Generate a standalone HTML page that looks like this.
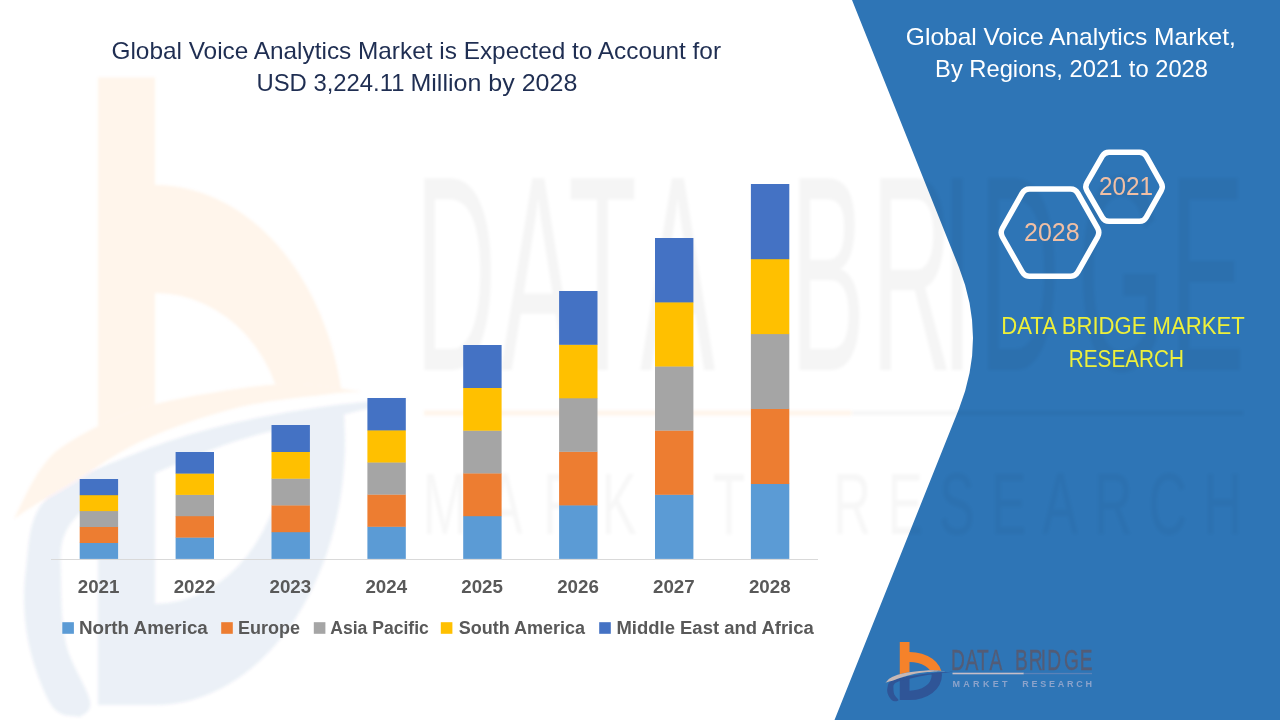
<!DOCTYPE html>
<html lang="en">
<head>
<meta charset="utf-8">
<title>Global Voice Analytics Market</title>
<style>
html,body{margin:0;padding:0;background:#fff;}
body{width:1280px;height:720px;overflow:hidden;position:relative;font-family:"Liberation Sans",sans-serif;}
svg{position:absolute;left:0;top:0;display:block}
text{font-family:"Liberation Sans",sans-serif;}
.ttl{font-size:24px;fill:#1F2E52;}
.rt{font-size:24px;fill:#ffffff;}
.yl{font-size:23px;fill:#EEF03A;}
.ax{font-size:18.5px;font-weight:bold;fill:#595959;}
.lg{font-size:18px;font-weight:bold;fill:#595959;}
.lt1{font-size:29px;}
.lt2{font-size:9px;font-weight:bold;}
.hx{font-size:25px;fill:#F0BFA4;}
</style>
</head>
<body>
<svg width="1280" height="720" viewBox="0 0 1280 720">
<defs>
<clipPath id="cTop"><path d="M-50 -50 H500 V392 L363.0 392.0 C352.5 390.7 321.2 384.5 300.0 384.0 C278.8 383.5 262.3 385.0 236.0 389.0 C209.7 393.0 169.5 399.3 142.0 408.0 C114.5 416.7 88.0 430.7 71.0 441.0 C54.0 451.3 49.5 457.0 40.0 470.0 C30.5 483.0 18.3 510.8 14.0 519.0 L-50 560 Z"/></clipPath>
<clipPath id="cBot"><path d="M500 800 V398 L410.0 398.0 C396.7 399.3 359.0 401.9 330.0 406.0 C301.0 410.1 267.3 415.0 236.0 422.5 C204.7 430.0 173.5 438.4 142.0 451.0 C110.5 463.6 62.8 490.2 47.0 498.0 L-50 540 V800 Z"/></clipPath>
<g id="icon">
<path d="M98 77.5 H155 V185 A190 255 0 0 1 345 440 A190 265 0 0 1 155 705 H98 Z M155 293 A130 147 0 0 1 285 440 A130 164 0 0 1 155 604 Z" fill="#2F5597" fill-rule="evenodd" clip-path="url(#cBot)"/>
<path d="M410.0 398.0 C396.7 399.3 359.0 401.9 330.0 406.0 C301.0 410.1 267.3 415.0 236.0 422.5 C204.7 430.0 173.5 438.4 142.0 451.0 C110.5 463.6 66.3 478.3 47.0 498.0 C27.7 517.7 29.2 545.3 26.0 569.0 C22.8 592.7 23.7 617.2 28.0 640.0 C32.3 662.8 43.3 693.2 52.0 706.0 C60.7 718.8 75.3 715.2 80.0 717.0 C81.7 714.3 92.3 713.2 90.0 701.0 C87.7 688.8 70.8 664.5 66.0 644.0 C61.2 623.5 61.3 596.0 61.0 578.0 C60.7 560.0 59.2 548.2 64.0 536.0 C68.8 523.8 77.0 514.5 90.0 505.0 C103.0 495.5 117.7 489.7 142.0 479.0 C166.3 468.3 204.7 451.2 236.0 441.0 C267.3 430.8 301.0 425.2 330.0 418.0 C359.0 410.8 396.7 401.3 410.0 398.0 Z" fill="#2F5597"/>
<path d="M98 77.5 H155 V185 A190 255 0 0 1 345 440 A190 265 0 0 1 155 705 H98 Z M155 293 A130 147 0 0 1 285 440 A130 164 0 0 1 155 604 Z" fill="#F5822A" fill-rule="evenodd" clip-path="url(#cTop)"/>
<path class="band" d="M14.0 519.0 C18.3 510.8 30.5 483.0 40.0 470.0 C49.5 457.0 54.0 451.3 71.0 441.0 C88.0 430.7 114.5 416.7 142.0 408.0 C169.5 399.3 209.7 393.0 236.0 389.0 C262.3 385.0 278.8 383.5 300.0 384.0 C321.2 384.5 352.5 390.7 363.0 392.0 C357.5 392.3 351.2 391.3 330.0 394.0 C308.8 396.7 267.3 400.2 236.0 408.0 C204.7 415.8 169.5 428.3 142.0 441.0 C114.5 453.7 88.8 473.3 71.0 484.0 C53.2 494.7 44.5 499.2 35.0 505.0 C25.5 510.8 17.5 516.7 14.0 519.0 Z"/>
</g>

<filter id="soft" x="-5%" y="-5%" width="110%" height="110%"><feGaussianBlur stdDeviation="1.5"/></filter>
</defs>
<!-- BLUE PANEL -->
<path id="panel" d="M852 0 L959 267.5 Q987 338.1 959 408.75 L834.5 720 L1280 720 L1280 0 Z" fill="#2E75B6"/>
<!-- WATERMARK -->
<g filter="url(#soft)">
<g opacity="0.08"><use href="#icon" style="fill:#F5822A"/><rect x="424" y="410.5" width="427" height="5" fill="#F5822A"/></g>
<g opacity="0.04" fill="#000000">
<g transform="translate(424,175) scale(5.86,9.6) translate(-952.5,-650)"><text transform="scale(0.66,1)" x="1440.9 1463.0 1480.5 1499.1 1522.7 1537.9 1558.8 1577.0 1586.7 1612.1 1636.0" y="670.3" class="lt1">DATA BRIDGE</text></g>
<rect x="851" y="411" width="392" height="4"/>
</g>
<g opacity="0.03" fill="#000000" transform="translate(424,175) scale(5.86,9.6) translate(-952.5,-650)"><text y="687.4" class="lt2" style="font-weight:normal"><tspan x="952.3" textLength="55" lengthAdjust="spacing">MARKET</tspan> <tspan x="1022.3" textLength="69.7" lengthAdjust="spacing">RESEARCH</tspan></text></g>
</g>
<!-- CHART -->
<line x1="51" y1="559.5" x2="818" y2="559.5" stroke="#D9D9D9" stroke-width="1"/>
<rect x="79.7" y="542.7" width="38.4" height="16.2" fill="#5B9BD5"/>
<rect x="79.7" y="526.8" width="38.4" height="16.2" fill="#ED7D31"/>
<rect x="79.7" y="510.8" width="38.4" height="16.2" fill="#A5A5A5"/>
<rect x="79.7" y="494.9" width="38.4" height="16.2" fill="#FFC000"/>
<rect x="79.7" y="479.0" width="38.4" height="16.2" fill="#4472C4"/>
<rect x="175.6" y="537.3" width="38.4" height="21.6" fill="#5B9BD5"/>
<rect x="175.6" y="516.0" width="38.4" height="21.6" fill="#ED7D31"/>
<rect x="175.6" y="494.6" width="38.4" height="21.6" fill="#A5A5A5"/>
<rect x="175.6" y="473.3" width="38.4" height="21.6" fill="#FFC000"/>
<rect x="175.6" y="452.0" width="38.4" height="21.6" fill="#4472C4"/>
<rect x="271.5" y="531.9" width="38.4" height="27.0" fill="#5B9BD5"/>
<rect x="271.5" y="505.2" width="38.4" height="27.0" fill="#ED7D31"/>
<rect x="271.5" y="478.4" width="38.4" height="27.0" fill="#A5A5A5"/>
<rect x="271.5" y="451.7" width="38.4" height="27.0" fill="#FFC000"/>
<rect x="271.5" y="425.0" width="38.4" height="27.0" fill="#4472C4"/>
<rect x="367.4" y="526.5" width="38.4" height="32.4" fill="#5B9BD5"/>
<rect x="367.4" y="494.4" width="38.4" height="32.4" fill="#ED7D31"/>
<rect x="367.4" y="462.2" width="38.4" height="32.4" fill="#A5A5A5"/>
<rect x="367.4" y="430.1" width="38.4" height="32.4" fill="#FFC000"/>
<rect x="367.4" y="398.0" width="38.4" height="32.4" fill="#4472C4"/>
<rect x="463.2" y="515.9" width="38.4" height="43.0" fill="#5B9BD5"/>
<rect x="463.2" y="473.2" width="38.4" height="43.0" fill="#ED7D31"/>
<rect x="463.2" y="430.4" width="38.4" height="43.0" fill="#A5A5A5"/>
<rect x="463.2" y="387.7" width="38.4" height="43.0" fill="#FFC000"/>
<rect x="463.2" y="345.0" width="38.4" height="43.0" fill="#4472C4"/>
<rect x="559.1" y="505.1" width="38.4" height="53.8" fill="#5B9BD5"/>
<rect x="559.1" y="451.6" width="38.4" height="53.8" fill="#ED7D31"/>
<rect x="559.1" y="398.0" width="38.4" height="53.8" fill="#A5A5A5"/>
<rect x="559.1" y="344.5" width="38.4" height="53.8" fill="#FFC000"/>
<rect x="559.1" y="291.0" width="38.4" height="53.8" fill="#4472C4"/>
<rect x="655.0" y="494.5" width="38.4" height="64.4" fill="#5B9BD5"/>
<rect x="655.0" y="430.4" width="38.4" height="64.4" fill="#ED7D31"/>
<rect x="655.0" y="366.2" width="38.4" height="64.4" fill="#A5A5A5"/>
<rect x="655.0" y="302.1" width="38.4" height="64.4" fill="#FFC000"/>
<rect x="655.0" y="238.0" width="38.4" height="64.4" fill="#4472C4"/>
<rect x="750.9" y="483.7" width="38.4" height="75.2" fill="#5B9BD5"/>
<rect x="750.9" y="408.8" width="38.4" height="75.2" fill="#ED7D31"/>
<rect x="750.9" y="333.8" width="38.4" height="75.2" fill="#A5A5A5"/>
<rect x="750.9" y="258.9" width="38.4" height="75.2" fill="#FFC000"/>
<rect x="750.9" y="184.0" width="38.4" height="75.2" fill="#4472C4"/>
<!-- LEGEND -->
<rect x="62.3" y="622.2" width="11.6" height="11.6" fill="#5B9BD5"/>
<rect x="221.2" y="622.2" width="11.6" height="11.6" fill="#ED7D31"/>
<rect x="313.8" y="622.2" width="11.6" height="11.6" fill="#A5A5A5"/>
<rect x="440.8" y="622.2" width="11.6" height="11.6" fill="#FFC000"/>
<rect x="599.2" y="622.2" width="11.6" height="11.6" fill="#4472C4"/>
<!-- HEX -->
<g fill="none" stroke="#fff" stroke-width="5.5" stroke-linejoin="round">
<path d="M1086.9 190.6 Q1084.7 186.7 1086.9 182.8 L1102.3 156.1 Q1104.5 152.2 1109.0 152.2 L1139.5 152.2 Q1144.0 152.2 1146.2 156.1 L1161.2 182.8 Q1163.4 186.7 1161.2 190.6 L1146.2 217.3 Q1144.0 221.2 1139.5 221.2 L1109.0 221.2 Q1104.5 221.2 1102.3 217.3 Z"/>
<path d="M1002.4 237.0 Q1000.0 232.6 1002.4 228.2 L1022.1 193.4 Q1024.5 189.0 1029.5 189.0 L1070.5 189.0 Q1075.5 189.0 1077.9 193.4 L1097.6 228.2 Q1100.0 232.6 1097.6 237.0 L1077.9 271.8 Q1075.5 276.2 1070.5 276.2 L1029.5 276.2 Q1024.5 276.2 1022.1 271.8 Z"/>
</g>
<!-- TEXT -->
<text x="111.48" y="58.9" textLength="609.58" lengthAdjust="spacingAndGlyphs" class="ttl">Global Voice Analytics Market is Expected to Account for</text>
<text x="256.41" y="91.4" textLength="148.07" lengthAdjust="spacingAndGlyphs" class="ttl">USD 3,224.11</text>
<text x="410.46" y="91.4" textLength="166.88" lengthAdjust="spacingAndGlyphs" class="ttl">Million by 2028</text>
<text x="905.88" y="44.7" textLength="329.99" lengthAdjust="spacingAndGlyphs" class="rt">Global Voice Analytics Market,</text>
<text x="935.11" y="77.2" textLength="272.88" lengthAdjust="spacingAndGlyphs" class="rt">By Regions, 2021 to 2028</text>
<text x="1001.24" y="334.2" textLength="243.41" lengthAdjust="spacingAndGlyphs" class="yl">DATA BRIDGE MARKET</text>
<text x="1068.80" y="366.5" textLength="115.24" lengthAdjust="spacingAndGlyphs" class="yl">RESEARCH</text>
<text x="1099.03" y="194.6" textLength="54.08" lengthAdjust="spacingAndGlyphs" class="hx">2021</text>
<text x="1024.00" y="241" textLength="55.62" lengthAdjust="spacingAndGlyphs" class="hx">2028</text>
<text x="78.96" y="633.5" textLength="128.89" lengthAdjust="spacingAndGlyphs" class="lg">North America</text>
<text x="238.00" y="633.5" textLength="62.02" lengthAdjust="spacingAndGlyphs" class="lg">Europe</text>
<text x="330.30" y="633.5" textLength="98.51" lengthAdjust="spacingAndGlyphs" class="lg">Asia Pacific</text>
<text x="458.75" y="633.5" textLength="126.23" lengthAdjust="spacingAndGlyphs" class="lg">South America</text>
<text x="616.47" y="633.5" textLength="197.28" lengthAdjust="spacingAndGlyphs" class="lg">Middle East and Africa</text>
<text x="77.79" y="593.0" textLength="41.66" lengthAdjust="spacingAndGlyphs" class="ax">2021</text>
<text x="173.66" y="593.0" textLength="41.66" lengthAdjust="spacingAndGlyphs" class="ax">2022</text>
<text x="269.54" y="593.0" textLength="41.66" lengthAdjust="spacingAndGlyphs" class="ax">2023</text>
<text x="365.41" y="593.0" textLength="41.66" lengthAdjust="spacingAndGlyphs" class="ax">2024</text>
<text x="461.29" y="593.0" textLength="41.66" lengthAdjust="spacingAndGlyphs" class="ax">2025</text>
<text x="557.16" y="593.0" textLength="41.66" lengthAdjust="spacingAndGlyphs" class="ax">2026</text>
<text x="653.04" y="593.0" textLength="41.66" lengthAdjust="spacingAndGlyphs" class="ax">2027</text>
<text x="748.91" y="593.0" textLength="41.66" lengthAdjust="spacingAndGlyphs" class="ax">2028</text>
<!-- LOGO -->
<g transform="translate(909.5,642) scale(0.17065,0.0926) translate(-155,-77.5)"><use href="#icon" style="fill:#C8B8B5"/></g>
<g fill="#535C76" stroke="#535C76" stroke-width="0.35"><text transform="scale(0.66,1)" x="1440.9 1463.0 1480.5 1499.1 1522.7 1537.9 1558.8 1577.0 1586.7 1612.1 1636.0" y="670.3" class="lt1">DATA BRIDGE</text></g>
<g fill="#8CA3CB"><text y="686.5" class="lt2"><tspan x="952.5" textLength="55" lengthAdjust="spacing">MARKET</tspan> <tspan x="1022.3" textLength="69.7" lengthAdjust="spacing">RESEARCH</tspan></text></g>
<rect x="952.5" y="672.7" width="71.3" height="1.6" fill="#C5BEC8"/>
<rect x="1023.8" y="672.9" width="68.2" height="1.3" fill="#5A82B8"/>
</svg>
</body>
</html>
